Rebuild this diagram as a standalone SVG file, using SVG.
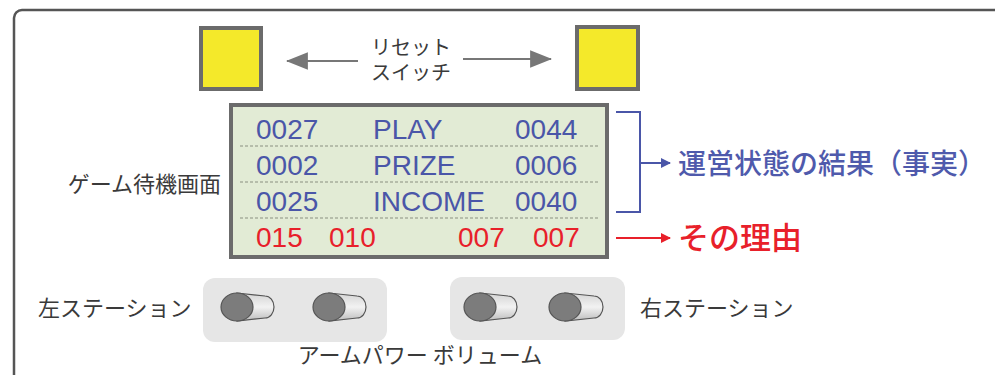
<svg xmlns="http://www.w3.org/2000/svg" width="995" height="375" viewBox="0 0 995 375">
<defs>
<style>
.jp{font-family:"Noto Sans CJK JP","Noto Sans",sans-serif;fill:#3a3a3a}
.num{font-family:"Liberation Sans",Arial,sans-serif;font-size:28px;fill:#4a56a8}
.red{fill:#e8202a}
.sw{fill:#f4e92a;stroke:#6b6b6b;stroke-width:4}
.sep{stroke:#8a8f80;stroke-width:1;stroke-dasharray:3 2}
.pad{fill:#e6e6e6}
.knob{fill:#7c7c7c;stroke:#555;stroke-width:1.2}
.body{fill:url(#cyl);stroke:#555;stroke-width:1.2}
</style>
<linearGradient id="cyl" x1="0" y1="0" x2="0" y2="1">
<stop offset="0" stop-color="#d4d4d4"/><stop offset="0.5" stop-color="#f2f2f2"/><stop offset="1" stop-color="#bdbdbd"/>
</linearGradient>
<marker id="agL" viewBox="0 0 20 20" refX="19" refY="10" markerWidth="22" markerHeight="22" markerUnits="userSpaceOnUse" orient="auto"><path d="M0,2L20,10L0,18Z" fill="#777"/></marker>
<marker id="ab" viewBox="0 0 10 10" refX="9" refY="5" markerWidth="10" markerHeight="10" markerUnits="userSpaceOnUse" orient="auto"><path d="M0,0L10,5L0,10Z" fill="#4a56a8"/></marker>
<marker id="ar" viewBox="0 0 10 10" refX="9" refY="5" markerWidth="10" markerHeight="10" markerUnits="userSpaceOnUse" orient="auto"><path d="M0,0L10,5L0,10Z" fill="#e8202a"/></marker>
</defs>
<rect width="995" height="375" fill="#fff"/>
<rect x="14" y="10" width="1000" height="400" rx="8" fill="none" stroke="#555" stroke-width="2.5"/>

<g id="reset-left"><rect class="sw" x="201" y="28" width="60" height="61"/></g>
<g id="reset-right"><rect class="sw" x="577" y="27" width="61" height="62"/></g>
<g id="reset-label">
<text class="jp" font-size="20" text-anchor="middle"><tspan x="411" y="55">リセット</tspan><tspan x="411" y="80">スイッチ</tspan></text>
</g>

<g id="display">
<rect x="231" y="105" width="376" height="152" fill="#e2ebd5" stroke="#6b6b6b" stroke-width="4"/>
<line class="sep" x1="240" y1="146" x2="598" y2="146"/>
<line class="sep" x1="240" y1="182" x2="598" y2="182"/>
<line class="sep" x1="240" y1="218" x2="598" y2="218"/>
<text class="num" x="256" y="139">0027</text><text class="num" x="373" y="139">PLAY</text><text class="num" x="515" y="139">0044</text>
<text class="num" x="256" y="175">0002</text><text class="num" x="373" y="175">PRIZE</text><text class="num" x="515" y="175">0006</text>
<text class="num" x="256" y="211">0025</text><text class="num" x="373" y="211">INCOME</text><text class="num" x="515" y="211">0040</text>
<text class="num red" x="256" y="247">015</text><text class="num red" x="329" y="247">010</text><text class="num red" x="458" y="247">007</text><text class="num red" x="533" y="247">007</text>
</g>
<g id="display-label"><text class="jp" x="221" y="192" font-size="22" text-anchor="end">ゲーム待機画面</text></g>

<g id="result-label"><text x="678" y="174" font-size="28" font-weight="500" font-family="Noto Sans CJK JP,Noto Sans,sans-serif" fill="#4f5aac">運営状態の結果（事実）</text></g>
<g id="reason-label"><text x="678" y="249" font-size="31" font-weight="500" font-family="Noto Sans CJK JP,Noto Sans,sans-serif" fill="#e8202a">その理由</text></g>

<g id="left-station">
<rect class="pad" x="203" y="278" width="184" height="64" rx="12"/>
<path class="body" d="M237,293 L265,296 A9,11 0 0 1 265,318 L237,321 Z"/>
<ellipse class="knob" cx="237" cy="307" rx="16" ry="14"/>
<path class="body" d="M329,293 L357,296 A9,11 0 0 1 357,318 L329,321 Z"/>
<ellipse class="knob" cx="329" cy="307" rx="16" ry="14"/>
</g>
<g id="right-station">
<rect class="pad" x="450" y="277" width="175" height="63" rx="12"/>
<path class="body" d="M480,293 L508,296 A9,11 0 0 1 508,318 L480,321 Z"/>
<ellipse class="knob" cx="480" cy="307" rx="16" ry="14"/>
<path class="body" d="M565,293 L594,296 A9,11 0 0 1 594,318 L565,321 Z"/>
<ellipse class="knob" cx="565" cy="307" rx="16" ry="14"/>
</g>
<g id="labels-bottom">
<text class="jp" x="38" y="316" font-size="22">左ステーション</text>
<text class="jp" x="640" y="316" font-size="22">右ステーション</text>
<text class="jp" x="420" y="363" font-size="22" text-anchor="middle">アームパワー ボリューム</text>
</g>

<g id="connectors">
<line x1="358" y1="61" x2="287" y2="61" stroke="#777" stroke-width="2" marker-end="url(#agL)"/>
<line x1="463" y1="59" x2="551" y2="59" stroke="#777" stroke-width="2" marker-end="url(#agL)"/>
<path d="M616,112 H640 V212 H616" fill="none" stroke="#4a56a8" stroke-width="2"/>
<line x1="640" y1="163" x2="670" y2="163" stroke="#4a56a8" stroke-width="2" marker-end="url(#ab)"/>
<line x1="616" y1="238" x2="670" y2="238" stroke="#e8202a" stroke-width="2" marker-end="url(#ar)"/>
</g>
</svg>
